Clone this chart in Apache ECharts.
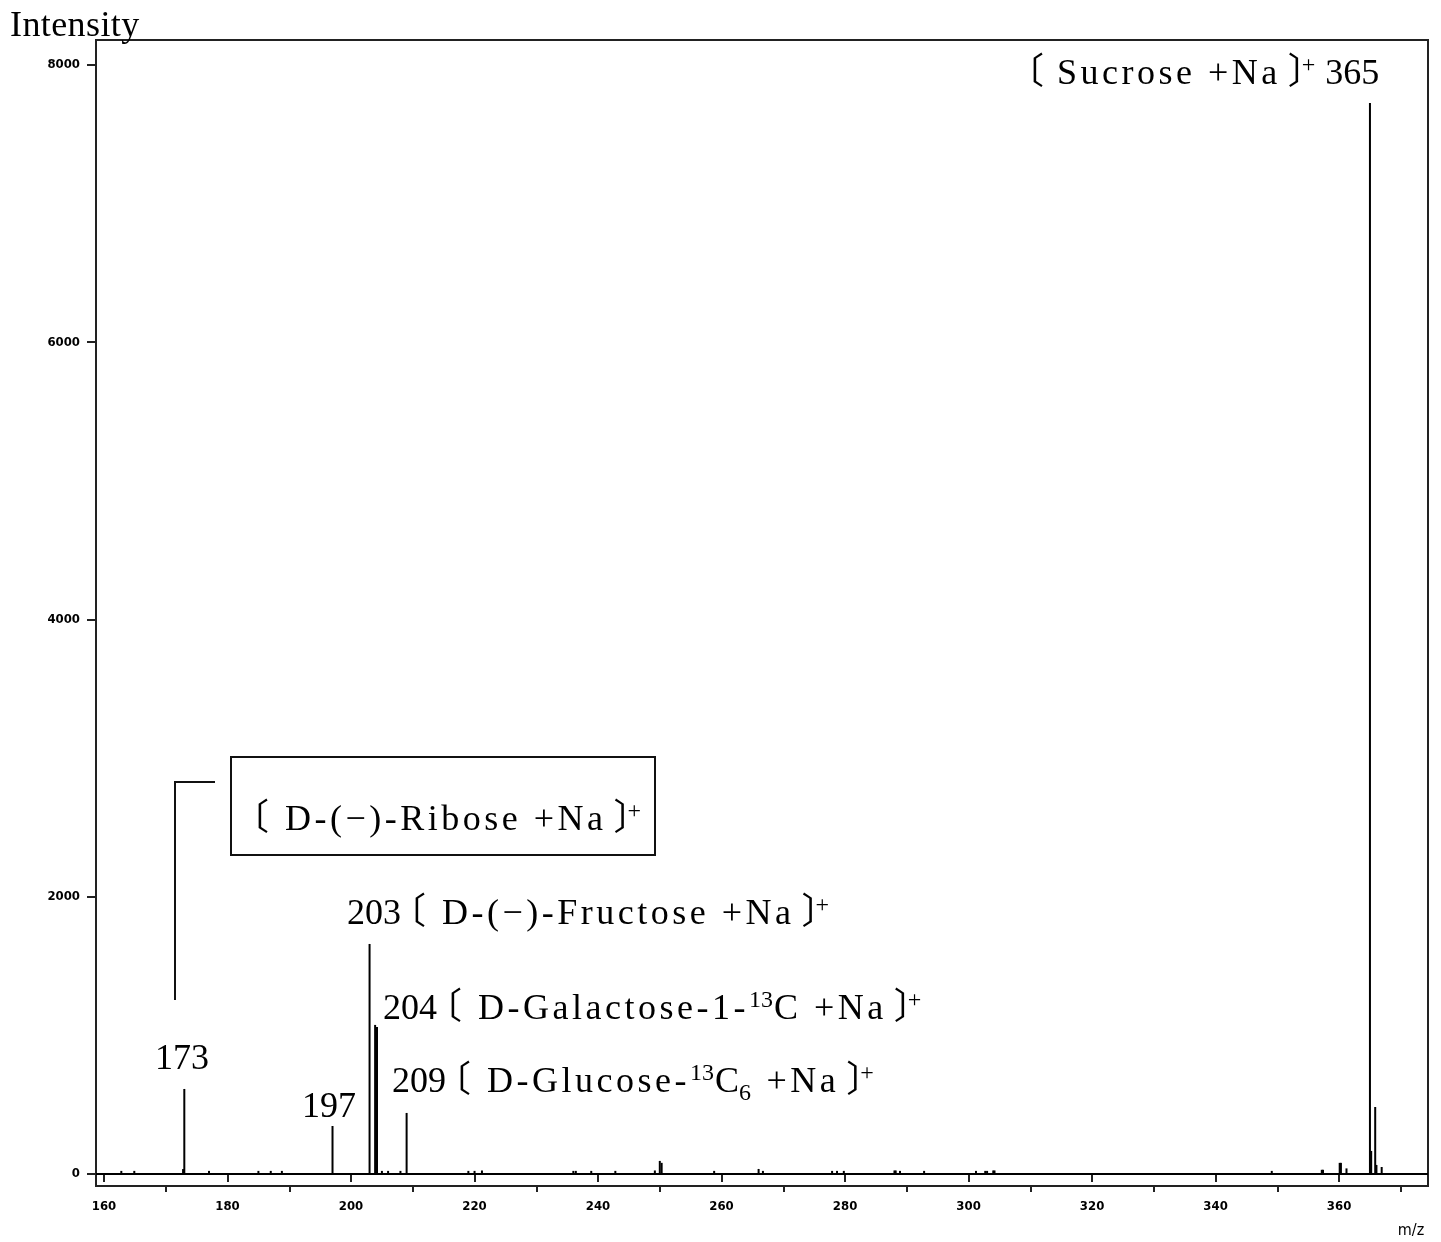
<!DOCTYPE html>
<html>
<head>
<meta charset="utf-8">
<script src="https://cdn.jsdelivr.net/npm/echarts@6/dist/echarts.min.js"></script>
<style>
html,body{margin:0;padding:0;background:#fff;}
#chart{width:1441px;height:1242px;}
</style>
</head>
<body>
<div id="chart"></div>
<script>
// ---- data ----
const mzValues = [
  162.8, 164.9, 172.8, 173.0, 177.0, 185.0, 187.0, 188.8, 197.0, 203.0,
  203.9, 204.2, 205.0, 206.0, 208.0, 209.0, 219.0, 220.0, 221.2, 236.0,
  236.4, 238.9, 242.8, 249.2, 250.0, 250.3, 258.8, 266.0, 266.7, 277.9,
  278.7, 279.8, 288.0, 288.2, 288.9, 292.8, 301.2, 302.7, 303.0, 304.0,
  304.2, 349.1, 357.2, 357.4, 360.1, 360.3, 361.2, 365.0, 365.2, 365.85,
  366.05, 366.9
];
const intensityValues = [
  22, 22, 35, 613, 22, 22, 22, 22, 346, 1659,
  1075, 1060, 22, 22, 22, 440, 22, 22, 25, 22,
  22, 22, 22, 25, 94, 80, 22, 36, 22, 22,
  22, 22, 25, 25, 22, 22, 22, 22, 22, 25,
  25, 22, 30, 30, 80, 80, 40, 7726, 166, 483,
  65, 50
];
const yTickValues = [0, 2000, 4000, 6000, 8000];
const xMajorTicks = [160, 180, 200, 220, 240, 260, 280, 300, 320, 340, 360];
const xMinorTicks = [170, 190, 210, 230, 250, 270, 290, 310, 330, 350, 370];

// annotation texts (kind, text)
const sucroseLabel = [['ob', '〔'], ['g', 14], ['w', 'Sucrose +Na'], ['g', 8], ['cb', '〕'], ['g', 3], ['sup', '+'], ['g', 10], ['n', '365']];
const riboseLabel = [['ob', '〔'], ['g', 17], ['w', 'D-(−)-Ribose +Na'], ['g', 8], ['cb', '〕'], ['g', 3], ['sup', '+']];
const fructoseLabel = [['n', '203'], ['g', 14], ['ob', '〔'], ['g', 17], ['w', 'D-(−)-Fructose +Na'], ['g', 8], ['cb', '〕'], ['g', 3], ['sup', '+']];
const galactoseLabel = [['n', '204'], ['g', 14], ['ob', '〔'], ['g', 17], ['w', 'D-Galactose-1-'], ['sup', '13'], ['g', 1], ['w', 'C +Na'], ['g', 8], ['cb', '〕'], ['g', 3], ['sup', '+']];
const glucoseLabel = [['n', '209'], ['g', 14], ['ob', '〔'], ['g', 17], ['w', 'D-Glucose-'], ['sup', '13'], ['g', 1], ['n', 'C'], ['sub', '6'], ['g', 3], ['w', ' +Na'], ['g', 8], ['cb', '〕'], ['g', 3], ['sup', '+']];
const label173 = [['n', '173']];
const label197 = [['n', '197']];
const yTitle = [['t', 'Intensity']];

const peaks = mzValues.map((m, i) => [m, intensityValues[i]]);

const serif = "'Liberation Serif','Times New Roman','Noto Sans CJK SC',serif";
const small = "'Liberation Sans Narrow','DejaVu Sans Condensed',sans-serif";
const LS = 3.5;

const mctx = document.createElement('canvas').getContext('2d');
function fontOf(size) { return size + 'px ' + serif; }
function baselineOffset(size) {
  mctx.font = fontOf(size);
  mctx.textBaseline = 'middle';
  const m = mctx.measureText('H');
  mctx.textBaseline = 'alphabetic';
  return m.actualBoundingBoxDescent;
}
function textEl(x, base, str, size) {
  return {
    type: 'text', x: x, y: base - baselineOffset(size), silent: true,
    style: {text: str, font: fontOf(size), fill: '#000', align: 'left', verticalAlign: 'middle'}
  };
}
function layoutLabel(parts, x0, base, opts) {
  opts = opts || {};
  let x = x0;
  const els = [];
  for (const [kind, val] of parts) {
    if (kind === 'g') { x += val; continue; }
    const isSmall = kind === 'sup' || kind === 'sub';
    const size = isSmall ? 24 : (opts.size || 36);
    mctx.font = fontOf(size);
    const dy = kind === 'sup' ? -12 : (kind === 'sub' ? 8 : 0);
    if (kind === 'ob' || kind === 'cb') {
      const m = mctx.measureText(val);
      const inkL = -m.actualBoundingBoxLeft;
      const inkR = m.actualBoundingBoxRight;
      els.push(textEl(x - inkL, base, val, size));
      x += inkR - inkL;
      continue;
    }
    if (kind === 'w' || kind === 't') {
      const ls = kind === 'w' ? LS : (opts.ls || 0);
      for (const ch of val) {
        if (ch !== ' ') els.push(textEl(x, base + dy, ch, size));
        x += mctx.measureText(ch).width + ls;
      }
      continue;
    }
    els.push(textEl(x, base + dy, val, size));
    x += mctx.measureText(val).width;
  }
  return els;
}

const chart = echarts.init(document.getElementById('chart'), null, {renderer: 'canvas'});

const graphics = [].concat(
  layoutLabel(yTitle, 10, 36, {ls: 0.4}),
  layoutLabel(sucroseLabel, 1033, 84),
  layoutLabel(riboseLabel, 258, 830),
  layoutLabel(fructoseLabel, 347, 924),
  layoutLabel(galactoseLabel, 383, 1019),
  layoutLabel(glucoseLabel, 392, 1092),
  layoutLabel(label173, 155, 1069),
  layoutLabel(label197, 302, 1117),
  [
    {type: 'text', x: 1411, y: 1231, silent: true, style: {text: 'm/z', fontSize: 16, fontFamily: small, fill: '#000', align: 'center', verticalAlign: 'middle'}},
    {type: 'rect', silent: true, shape: {x: 231, y: 757, width: 424, height: 98}, style: {fill: 'none', stroke: '#111', lineWidth: 2}},
    {type: 'polyline', silent: true, shape: {points: [[175, 1000], [175, 782], [215, 782]]}, style: {fill: 'none', stroke: '#111', lineWidth: 2}}
  ]
);

const option = {
  animation: false,
  backgroundColor: '#fff',
  grid: {left: 96, right: 13, top: 40, bottom: 56, show: true, borderColor: '#222', borderWidth: 2, backgroundColor: 'transparent'},
  xAxis: [{
    type: 'value', min: 158.7, max: 374.4, position: 'bottom',
    axisLine: {show: false},
    splitLine: {show: false},
    axisTick: {show: true, customValues: xMajorTicks, length: 8, lineStyle: {color: '#222', width: 2}},
    axisLabel: {show: true, customValues: xMajorTicks, margin: 14, fontSize: 13, fontWeight: 'bold', fontFamily: small, color: '#000', formatter: v => String(v)}
  }, {
    type: 'value', min: 158.7, max: 374.4, position: 'bottom',
    axisLine: {show: false},
    splitLine: {show: false},
    axisTick: {show: true, customValues: xMinorTicks, length: 6, lineStyle: {color: '#222', width: 2}},
    axisLabel: {show: false}
  }],
  yAxis: {
    type: 'value', min: -87, max: 8180,
    axisLine: {show: false},
    splitLine: {show: false},
    axisTick: {show: true, customValues: yTickValues, length: 9, lineStyle: {color: '#222', width: 2}},
    axisLabel: {show: true, customValues: yTickValues, margin: 16, fontSize: 13, fontWeight: 'bold', fontFamily: small, color: '#000', formatter: v => String(v)}
  },
  series: [{
    type: 'bar', xAxisIndex: 0, yAxisIndex: 0,
    data: peaks, barWidth: 2, itemStyle: {color: '#000'},
    markLine: {
      silent: true, symbol: 'none', label: {show: false},
      lineStyle: {color: '#000', width: 2, type: 'solid'},
      data: [{yAxis: 0}]
    }
  }],
  graphic: graphics
};
chart.setOption(option);
</script>
</body>
</html>
